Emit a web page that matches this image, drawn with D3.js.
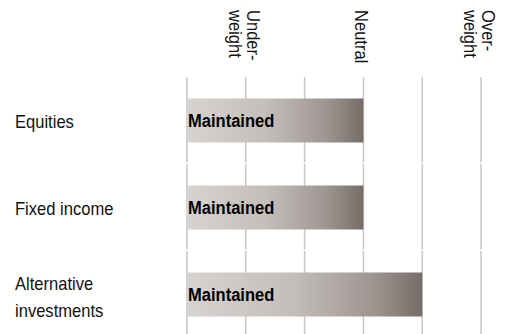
<!DOCTYPE html>
<html>
<head>
<meta charset="utf-8">
<script src="https://cdn.jsdelivr.net/npm/d3@7"></script>
<style>
  html, body { margin: 0; padding: 0; background: #fff; }
  svg { display: block; font-family: "Liberation Sans", Arial, sans-serif; }
</style>
</head>
<body>
<svg id="chart" width="512" height="334"></svg>
<script>
// ---- data ----
const categories = ["Equities", "Fixed income", "Alternative investments"];
const categoryLines = [["Equities"], ["Fixed income"], ["Alternative", "investments"]];
const values = [3, 3, 4];
const barLabels = ["Maintained", "Maintained", "Maintained"];
const gridTicks = [0, 1, 2, 3, 4, 5];
const headerTicks = [1, 3, 5];
const headerLabels = [["Under-", "weight"], ["Neutral"], ["Over-", "weight"]];

// ---- layout ----
const svg = d3.select("#chart");
const x = d3.scaleLinear().domain([0, 5]).range([187, 481]);
const y = d3.scaleBand().domain(categories).range([77, 338]).paddingInner(0).paddingOuter(0);
const bw = y.bandwidth();
const barH = 44;
const sx = 0.92;      // slightly condensed text
const sxBold = 0.87;

const defs = svg.append("defs");
const grad = defs.append("linearGradient").attr("id", "barGrad")
  .attr("x1", "0%").attr("x2", "100%").attr("y1", "0%").attr("y2", "0%");
grad.append("stop").attr("offset", "0%").attr("stop-color", "#d7d3d0");
grad.append("stop").attr("offset", "45%").attr("stop-color", "#c4beba");
grad.append("stop").attr("offset", "80%").attr("stop-color", "#9c948f");
grad.append("stop").attr("offset", "100%").attr("stop-color", "#766d68");

// gridline segments per row
const rows = svg.append("g");
categories.forEach((c, i) => {
  rows.append("g").selectAll("line").data(gridTicks).join("line")
    .attr("x1", d => x(d)).attr("x2", d => x(d))
    .attr("y1", y(c)).attr("y2", y(c) + bw - 1.5)
    .attr("stroke", "#c6c6c6").attr("stroke-width", 1.5);
});

// bars
svg.append("g").selectAll("rect").data(categories).join("rect")
  .attr("x", x(0))
  .attr("y", c => y(c) + (bw - barH) / 2)
  .attr("width", (c, i) => x(values[i]) - x(0))
  .attr("height", barH)
  .attr("fill", "url(#barGrad)");

// bar labels
svg.append("g").selectAll("text").data(categories).join("text")
  .attr("transform", c => `translate(${x(0) + 1},${y(c) + bw / 2}) scale(${sxBold},1)`)
  .attr("dy", "0.36em")
  .attr("font-size", 19).attr("font-weight", "bold").attr("fill", "#000")
  .text((c, i) => barLabels[i]);

// category labels
const lineH = 27;
svg.append("g").selectAll("text").data(categories).join("text")
  .attr("transform", (c, i) => `translate(15,${y(c) + bw / 2 + 1 - (categoryLines[i].length - 1) * (lineH / 2 - 1.5)}) scale(${sx},1)`)
  .attr("font-size", 18).attr("fill", "#111")
  .each(function (c, i) {
    d3.select(this).selectAll("tspan").data(categoryLines[i]).join("tspan")
      .attr("x", 0).attr("dy", (d, j) => j === 0 ? "0.36em" : lineH)
      .text(d => d);
  });

// header labels (rotated)
const hLineH = 18.5;
headerTicks.forEach((t, i) => {
  const lines = headerLabels[i];
  const cx = x(t) - 1.5;
  const g = svg.append("g").attr("transform", `translate(${cx},10) rotate(90) scale(${sx},1)`);
  const off = (lines.length - 1) * hLineH / 2;
  g.selectAll("text").data(lines).join("text")
    .attr("x", 0)
    .attr("y", (d, j) => -off + j * hLineH)
    .attr("dy", "0.36em")
    .attr("font-size", 18).attr("fill", "#111")
    .text(d => d);
});
</script>
</body>
</html>
